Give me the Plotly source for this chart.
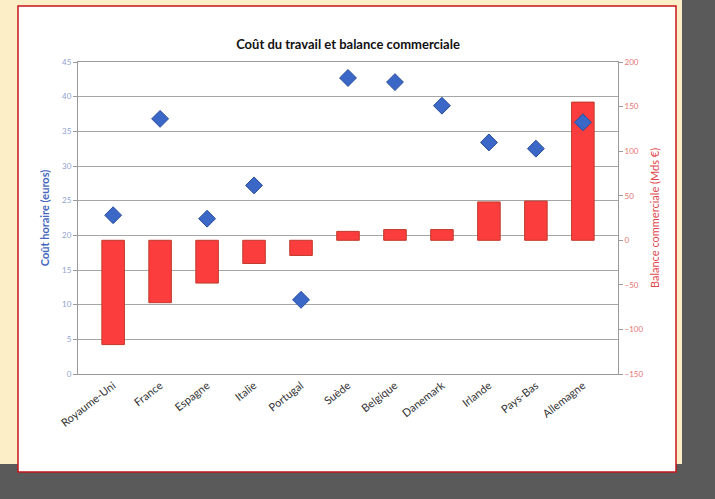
import plotly.graph_objects as go

# ---- data ----
pays = ["Royaume-Uni", "France", "Espagne", "Italie", "Portugal", "Suède",
        "Belgique", "Danemark", "Irlande", "Pays-Bas", "Allemagne"]
cout_horaire = [22.9, 36.8, 22.4, 27.2, 10.7, 42.7, 42.1, 38.7, 33.4, 32.5, 36.3]   # euros
balance_commerciale = [-117, -70, -48, -26, -17, 10, 12, 12, 43, 44, 155]            # Mds €

ticks_cout = [0, 5, 10, 15, 20, 25, 30, 35, 40, 45]
ticks_balance = [-150, -100, -50, 0, 50, 100, 150, 200]

W, H = 715, 499
ML, MR, MT, MB = 78, 97, 62, 125
PW, PH = W - ML - MR, H - MT - MB
FONT = "Lato, 'Open Sans', sans-serif"

fig = go.Figure()

fig.add_trace(go.Bar(
    x=pays, y=balance_commerciale, base=0, yaxis="y",
    marker=dict(color="#fb3d3d", line=dict(color="#c0392b", width=1)),
    width=0.48, name="Balance commerciale", showlegend=False,
    hovertemplate="%{x}: %{y} Mds €<extra></extra>",
))
fig.add_trace(go.Scatter(
    x=pays, y=cout_horaire, yaxis="y2", mode="markers",
    marker=dict(symbol="diamond", size=13, color="#3b67c6",
                line=dict(color="#2a4d9c", width=1)),
    name="Coût horaire", showlegend=False,
    hovertemplate="%{x}: %{y} €<extra></extra>",
))

# pixel -> plot-domain ("paper") coordinates
def px_x(p):
    return (p - ML) / PW

def px_y(p):
    return (H - MB - p) / PH

shapes = [
    # beige slide
    dict(type="rect", xref="paper", yref="paper", layer="below",
         x0=px_x(-10), x1=px_x(682), y0=px_y(464), y1=px_y(-10),
         fillcolor="#fcefc7", line=dict(width=0)),
    # white chart card with red border
    dict(type="rect", xref="paper", yref="paper", layer="below",
         x0=px_x(18), x1=px_x(676), y0=px_y(472), y1=px_y(6),
         fillcolor="#ffffff", line=dict(color="#c4161c", width=1.5)),
]

fig.update_layout(
    width=W, height=H,
    margin=dict(l=ML, r=MR, t=MT, b=MB),
    paper_bgcolor="#5a5a5a",
    plot_bgcolor="#ffffff",
    font=dict(family=FONT, color="#333333"),
    shapes=shapes,
    title=dict(text="<b>Coût du travail et balance commerciale</b>",
               x=0.5, xref="paper", xanchor="center",
               y=1 - 44 / H, yref="container", yanchor="middle",
               font=dict(size=13, color="#111111", family=FONT)),
    bargap=0.5,
    showlegend=False,
    xaxis=dict(
        type="category", tickangle=-38,
        tickfont=dict(size=11, color="#333333"),
        showline=True, linecolor="#9a9a9a", linewidth=1, mirror=True,
        showgrid=False, ticks="",
    ),
    yaxis=dict(
        side="right", range=[-150, 200], tickvals=ticks_balance,
        tickfont=dict(size=8, color="#e57373"),
        title=dict(text="Balance commerciale (Mds €)",
                   font=dict(size=11, color="#e0474c"), standoff=8),
        showgrid=False, zeroline=False,
        showline=True, linecolor="#9a9a9a", linewidth=1,
        ticks="outside", ticklen=4, tickcolor="#9a9a9a",
    ),
    yaxis2=dict(
        side="left", overlaying="y", range=[0, 45], tickvals=ticks_cout,
        tickfont=dict(size=8, color="#8ea2d0"),
        title=dict(text="<b>Coût horaire (euros)</b>",
                   font=dict(size=11, color="#4568be"), standoff=10),
        showgrid=True, gridcolor="#a6a6a6", gridwidth=1,
        zeroline=False,
        showline=True, linecolor="#9a9a9a", linewidth=1,
        ticks="outside", ticklen=4, tickcolor="#9a9a9a",
    ),
)

fig.write_html("out.html")
